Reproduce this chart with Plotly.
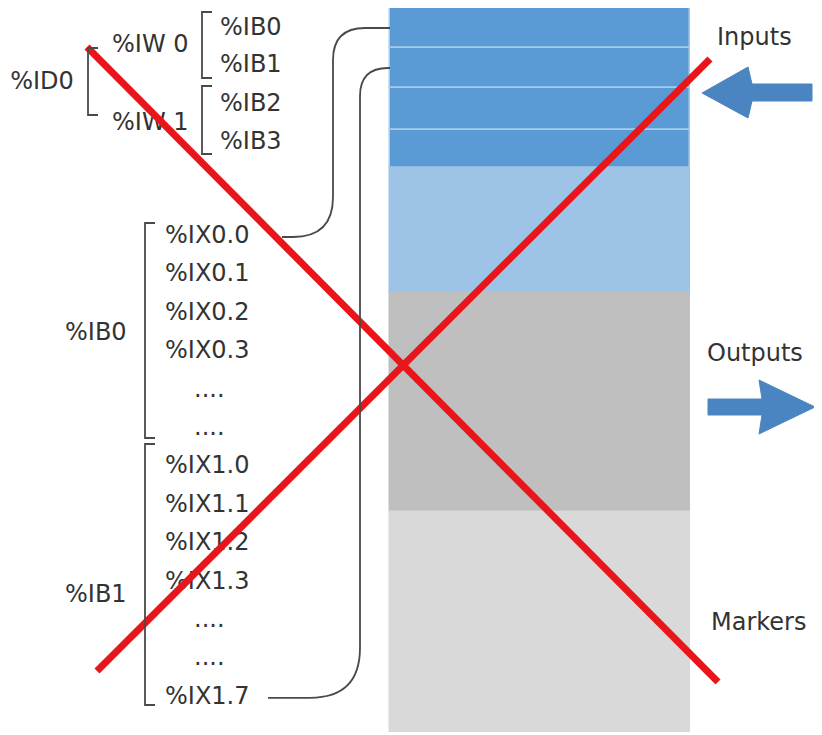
import plotly.graph_objects as go

# ---------------- data ----------------
# memory block segments (top -> bottom): label, height in px, colour
segment_names = ["IB0", "IB1", "IB2", "IB3", "Inputs (rest)", "Outputs", "Markers"]
segment_heights = [40, 40, 42, 38, 125, 219, 220]
segment_colors = ["#5B9BD5", "#5B9BD5", "#5B9BD5", "#5B9BD5", "#9DC3E6", "#BFBFBF", "#D9D9D9"]
block_top = 8

# byte labels at top
byte_labels = ["%IB0", "%IB1", "%IB2", "%IB3"]
byte_y = [29, 66, 105, 143]
word_labels = ["%IW 0", "%IW 1"]
word_y = [46, 124]
dword_labels = ["%ID0"]
dword_y = [83]

# bit labels
bit_labels = ["%IX0.0", "%IX0.1", "%IX0.2", "%IX0.3", "....", "....",
              "%IX1.0", "%IX1.1", "%IX1.2", "%IX1.3", "....", "....", "%IX1.7"]
bit_y0, bit_step = 237, 38.4
group_labels = ["%IB0", "%IB1"]
group_y = [334, 596]

area_labels = ["Inputs", "Outputs", "Markers"]
area_x = [717, 707, 711]
area_y = [39, 355, 624]

FONT = "DejaVu Sans"
TXT = "#333333"
LN = "#4a4a4a"

fig = go.Figure()

# ---- memory block as stacked bar ----
bases = []
acc = block_top
for h in segment_heights:
    bases.append(acc)
    acc += h
for name, h, b, c in zip(segment_names, segment_heights, bases, segment_colors):
    lc = "#A8CBEB" if c == "#5B9BD5" else c
    fig.add_trace(go.Bar(x=[540], y=[h], base=[b], width=[300], name=name,
                         marker=dict(color=c, line=dict(color=lc, width=1.5)),
                         hoverinfo="skip"))

# ---- texts ----
def txt(xs, ys, labels, anchor="middle right"):
    fig.add_trace(go.Scatter(x=xs, y=ys, text=labels, mode="text",
                             textposition=anchor, cliponaxis=False,
                             textfont=dict(family=FONT, size=24, color=TXT),
                             hoverinfo="skip"))

txt([220] * len(byte_labels), byte_y, byte_labels)
txt([112] * len(word_labels), word_y, word_labels)
txt([42] * len(dword_labels), dword_y, dword_labels, anchor="middle center")
bit_ys = [bit_y0 + i * bit_step for i in range(len(bit_labels))]
bit_xs = [194 if l == "...." else 165 for l in bit_labels]
txt(bit_xs, bit_ys, bit_labels)
txt([65] * len(group_labels), group_y, group_labels)
txt(area_x, area_y, area_labels)

# ---- brackets ----
def bracket(x, y0, y1, tick=10):
    fig.add_shape(type="path", path=f"M {x+tick} {y0} L {x} {y0} L {x} {y1} L {x+tick} {y1}",
                  line=dict(color=LN, width=1.8), xref="x", yref="y")

bracket(88, 48, 115)
bracket(202, 12, 78)
bracket(202, 86, 154)
bracket(145, 223, 438)
bracket(145, 444, 705)

# ---- connectors ----
fig.add_shape(type="path",
              path="M 282 237 L 293 237 Q 333 237 333 197 L 333 60 Q 333 28 365 28 L 390 28",
              line=dict(color=LN, width=1.8))
fig.add_shape(type="path",
              path=f"M 268 {bit_ys[-1]} L 310 {bit_ys[-1]} Q 360 {bit_ys[-1]} 360 {bit_ys[-1]-50} L 360 96 Q 360 68 388 68 L 390 68",
              line=dict(color=LN, width=1.8))

# ---- arrows ----
ARROW = "#4A84C1"
in_x = [702, 748, 752, 812, 812, 752, 748, 702]
in_y = [93, 67, 84, 84, 101, 101, 118, 93]
out_x = [708, 762, 759, 815, 759, 762, 708, 708]
out_y = [399, 399, 380, 407, 434, 415, 415, 399]
for ax_, ay_ in [(in_x, in_y), (out_x, out_y)]:
    fig.add_trace(go.Scatter(x=ax_, y=ay_, fill="toself", fillcolor=ARROW,
                             mode="lines", line=dict(color=ARROW, width=1),
                             hoverinfo="skip"))

# ---- red cross ----
RED = "#E8161B"
cross1_x, cross1_y = [87, 718], [47, 682]
cross2_x, cross2_y = [97, 710], [671, 59]
for cx, cy in [(cross1_x, cross1_y), (cross2_x, cross2_y)]:
    fig.add_trace(go.Scatter(x=cx, y=cy, mode="lines",
                             line=dict(color=RED, width=7), hoverinfo="skip"))

# the page places the figure 8px in from the top-left corner, so the
# figure is 8px smaller and its axes start at 8 to keep pixel alignment
fig.update_layout(
    width=814, height=727,
    margin=dict(l=0, r=0, t=0, b=0),
    paper_bgcolor="white", plot_bgcolor="white",
    showlegend=False, barmode="overlay", bargap=0,
    xaxis=dict(range=[8, 822], visible=False, fixedrange=True),
    yaxis=dict(range=[735, 8], visible=False, fixedrange=True),
)

fig.write_html("out.html")
